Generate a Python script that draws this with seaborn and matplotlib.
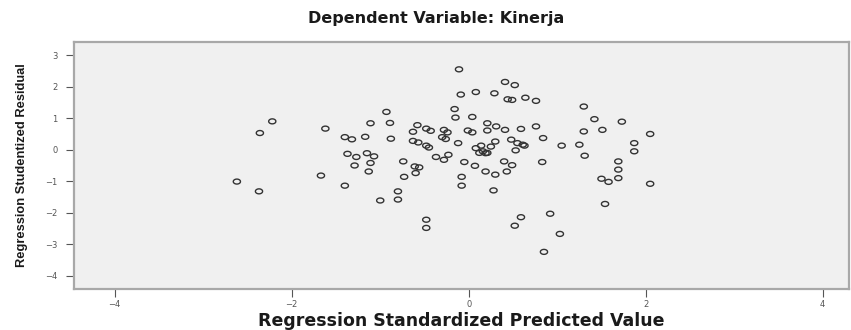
import numpy as np
import pandas as pd
import matplotlib
matplotlib.use("Agg")
import matplotlib.pyplot as plt
from matplotlib.path import Path
import seaborn as sns

# Values
predicted = [
    -2.22, -2.36, -1.62, -2.62, -2.37, -1.67,
    -0.11, 0.41, 0.52, -0.09, 0.08, 0.29, 0.44, 0.49, 0.64, 0.76, 1.30,
    -0.93, -0.16, -0.15, 0.04, -1.11, -0.89,
    -1.40, -1.32, -1.17, -0.88, -0.63, -0.58, -0.48, -0.43,
    -0.63, -0.57, -0.48, -0.45, -0.28, -0.24, -0.30, -0.26,
    -0.01, 0.04, -0.12, 0.21, 0.21, 0.31, 0.41, 0.59, 0.76,
    0.30, 0.48, 0.55, 0.63, 0.84, 1.05, 1.25, 1.30, 1.31,
    0.08, 0.14, 0.16, 0.19, 0.12, 0.53, 0.25, 0.21, 0.61,
    -1.37, -1.27, -1.15, -1.07, -1.29, -1.11, -1.13, -1.40,
    -0.74, -0.61, -0.56, -0.60, -0.73, -0.37, -0.28, -0.23,
    -0.05, 0.07, 0.19, 0.30, -0.08, -0.08, 0.28,
    0.40, 0.49, 0.43, 0.83, -0.80, -0.80, -1.00,
    -0.48, -0.48, 0.59, 0.52, 0.92, 1.03, 0.85,
    1.42, 1.73, 1.51, 2.05, 1.87, 1.87, 1.69, 1.69, 1.69,
    1.50, 1.58, 2.05, 1.54,
]
residual = [
    0.90, 0.53, 0.67, -1.01, -1.32, -0.82,
    2.55, 2.15, 2.05, 1.75, 1.83, 1.79, 1.60, 1.58, 1.65, 1.55, 1.37,
    1.20, 1.29, 1.02, 1.04, 0.84, 0.85,
    0.40, 0.33, 0.41, 0.35, 0.57, 0.78, 0.67, 0.60,
    0.28, 0.23, 0.13, 0.07, 0.63, 0.55, 0.40, 0.34,
    0.61, 0.55, 0.21, 0.84, 0.61, 0.74, 0.63, 0.66, 0.74,
    0.26, 0.32, 0.21, 0.13, 0.37, 0.13, 0.16, 0.58, -0.19,
    0.05, 0.13, -0.05, -0.11, -0.10, -0.02, 0.10, -0.10, 0.16,
    -0.13, -0.23, -0.11, -0.21, -0.50, -0.42, -0.69, -1.14,
    -0.37, -0.53, -0.56, -0.74, -0.86, -0.23, -0.32, -0.16,
    -0.39, -0.51, -0.69, -0.79, -0.86, -1.14, -1.29,
    -0.37, -0.49, -0.69, -0.39, -1.32, -1.58, -1.61,
    -2.22, -2.48, -2.14, -2.41, -2.03, -2.67, -3.24,
    0.97, 0.89, 0.63, 0.50, 0.21, -0.05, -0.37, -0.63, -0.90,
    -0.92, -1.02, -1.08, -1.72,
]
x_ticks = [-4, -2, 0, 2, 4]
y_ticks = [3, 2, 1, 0, -1, -2, -3, -4]

df = pd.DataFrame({"pred": predicted, "resid": residual})

sns.set_style("white")
plt.rcParams["font.family"] = ["DejaVu Sans"]

fig = plt.figure(figsize=(8.51, 3.30), dpi=100)
ax = fig.add_axes([0.087, 0.124, 0.911, 0.749])

# flattened open circle, like the SPSS marker
t = np.linspace(0, 2 * np.pi, 40)
ring = Path(np.column_stack([1.45 * np.cos(t), np.sin(t)]))

sns.scatterplot(data=df, x="pred", y="resid", ax=ax, marker=ring, s=27,
                facecolor="none", edgecolor="#333333", linewidth=1.0)

ax.set_facecolor("#f0f0f0")
ax.set_xlim(-4.46, 4.30)
ax.set_ylim(-4.42, 3.42)
ax.set_xticks(x_ticks)
ax.set_yticks(y_ticks)
ax.tick_params(axis="both", direction="out", length=6, width=0.8,
               color="#555555", labelsize=6, labelcolor="#555555",
               bottom=True, left=True)
ax.tick_params(axis="y", pad=6)
ax.tick_params(axis="x", pad=2)
for sp in ax.spines.values():
    sp.set_color("#a8a8a8")
    sp.set_linewidth(1.6)

ax.set_xlabel("Regression Standardized Predicted Value", fontsize=12.5,
              fontweight="bold", color="#1a1a1a", labelpad=2)
ax.set_ylabel("Regression Studentized Residual", fontsize=9.3, fontweight="bold",
              family=["Liberation Sans Narrow", "Liberation Sans", "DejaVu Sans"],
              color="#1a1a1a", labelpad=12)
fig.text(0.512, 0.945, "Dependent Variable: Kinerja", ha="center", va="center",
         fontsize=11.5, fontweight="bold", color="#1a1a1a")

fig.savefig("out.png", dpi=100)
